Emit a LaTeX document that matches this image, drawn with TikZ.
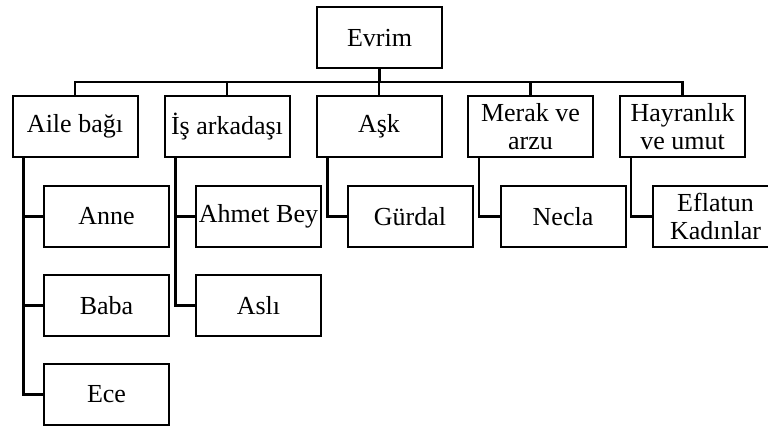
\documentclass[tikz,border=0pt]{standalone}
\usepackage{fontspec}
\setmainfont{Liberation Serif}
\begin{document}
\begin{tikzpicture}[x=1pt,y=-1pt,
  box/.style={draw=black, line width=2pt, fill=white, inner sep=0pt,
    minimum width=125pt, minimum height=61pt, align=center,
    font=\fontsize{26}{27.5}\selectfont},
  link/.style={draw=black, line width=2.2pt},
  bus/.style={draw=black, line width=2.8pt}]
\useasboundingbox (0,0) rectangle (768,428);
\clip (0,0) rectangle (768,428);

% root
\node[box] (evrim) at (379.5,38) {Evrim};

% first level
\node[box] (aile)  at (75,126.5)    {Aile bağı};
\node[box] (is)    at (227,126.5)   {İş arkadaşı};
\node[box] (ask)   at (379,126.5)   {Aşk};
\node[box] (merak) at (530.5,126.5) {Merak ve\\arzu};
\node[box] (hayr)  at (682.5,126.5) {Hayranlık\\ve umut};

% second level
\node[box] (anne)    at (106.5,216.5) {Anne};
\node[box] (baba)    at (106.5,305.5) {Baba};
\node[box] (ece)     at (106.5,394.5) {Ece};
\node[box] (ahmet)   at (258.5,216.5) {Ahmet Bey};
\node[box] (asli)    at (258.5,305.5) {Aslı};
\node[box] (gurdal)  at (410,216.5)   {Gürdal};
\node[box] (necla)   at (563,216.5)   {Necla};
\node[box] (eflatun) at (715.5,216.5) {Eflatun\\Kadınlar};

% bus from the root to the first level
\coordinate (busy) at (379.5,82);
\draw[bus] (evrim.south) -- (busy);
\foreach \c in {aile,is,ask,merak,hayr}
  \draw[bus] (busy) -| (\c.north);

% side links to the second level
\foreach \p/\c in {aile/anne,aile/baba,aile/ece,is/ahmet,is/asli,
                   ask/gurdal,merak/necla,hayr/eflatun}
  \draw[link] ([xshift=12pt]\p.south west) |- (\c.west);
\end{tikzpicture}
\end{document}
